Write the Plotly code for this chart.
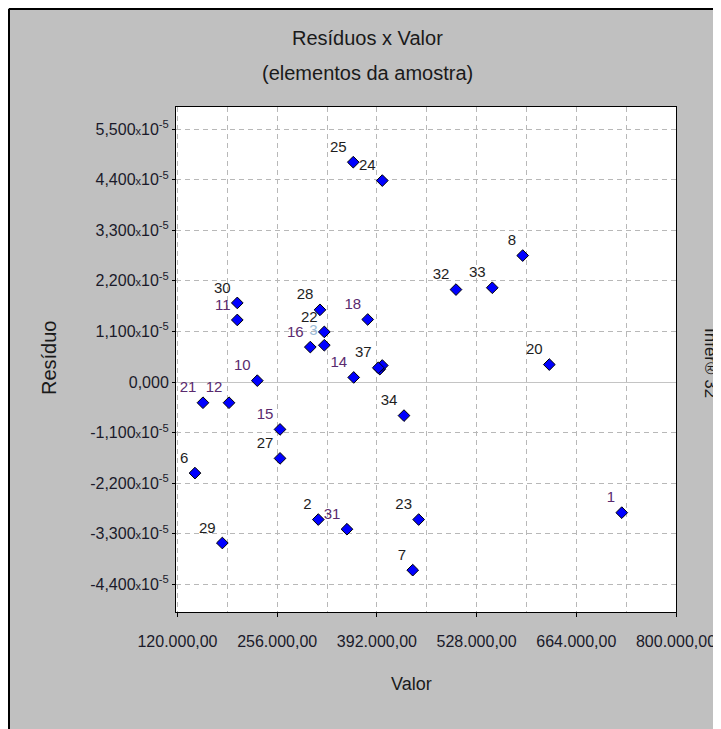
import plotly.graph_objects as go

# dados (valor em R$, residuo em unidades de 1e-5)
elementos = ["1", "2", "3", "6", "7", "8", "10", "11", "12", "14", "15", "16", "18", "20", "21",
             "22", "23", "24", "25", "27", "28", "29", "30", "31", "32", "33", "34", "35", "36", "37"]
valor = [726000, 312100, 320300, 143900, 440900, 590900, 228900, 201600, 190300, 360400,
         259900, 301200, 379500, 627200, 154800, 320300, 449000, 399400, 359800, 259900,
         314400, 181200, 201600, 351200, 499900, 549400, 429000, 396000, 399400, 393900]
residuo_e5 = [-2.84, -2.99, 0.80, -1.98, -4.09, 2.75, 0.03, 1.35, -0.45, 0.10,
              -1.03, 0.76, 1.36, 0.38, -0.45, 1.09, -2.99, 4.38, 4.78, -1.66,
              1.57, -3.50, 1.72, -3.20, 2.01, 2.05, -0.73, 0.28, 0.36, 0.31]
rotulos_ocultos = ["35", "36"]
rotulos_roxos = ["1", "10", "11", "12", "14", "15", "16", "18", "21", "31"]

x_ticks = [120000, 256000, 392000, 528000, 664000, 800000]
x_ticklabels = ["120.000,00", "256.000,00", "392.000,00", "528.000,00", "664.000,00", "800.000,00"]
x_grade_menor = [188000, 324000, 460000, 596000, 732000]
y_ticks_e5 = [-4.4, -3.3, -2.2, -1.1, 0.0, 1.1, 2.2, 3.3, 4.4, 5.5]

residuo = [v * 1e-5 for v in residuo_e5]


def fmt_y(v):
    if v == 0:
        return "0,000"
    s = ("%.3f" % v).replace(".", ",")
    return s + "<span style='font-size:11px'>x</span>10<sup>-5</sup>"


textos = ["" if e in rotulos_ocultos else e for e in elementos]
cores = []
for e in elementos:
    if e in rotulos_roxos:
        cores.append("#5a2a6e")
    elif e == "3":
        cores.append("#9bbbd8")
    else:
        cores.append("#1e1e1e")

# a pagina tem margem de 8px; posicoes abaixo em pixels da pagina
OFF = 8
W, H = 721, 729
L, R, T, B = 176 - OFF, 676 - OFF, 107 - OFF, 612 - OFF


def px(x):
    return (x - OFF - L) / (R - L)


def py(y):
    return (B - (y - OFF)) / (B - T)


FONTE = "Liberation Sans, Arial"

fig = go.Figure()
fig.add_trace(go.Scatter(
    x=valor, y=residuo, mode="markers+text",
    text=textos, textposition="top left",
    textfont=dict(family=FONTE, size=15, color=cores),
    marker=dict(symbol="diamond", size=9, color="#0000ff", line=dict(color="#000000", width=1)),
    cliponaxis=False, showlegend=False, hoverinfo="skip"))

fig.update_xaxes(
    range=[118000, 800000], tickvals=x_ticks, ticktext=x_ticklabels,
    showgrid=True, gridcolor="#b8b8b8", griddash="5px,4px", gridwidth=1,
    minor=dict(tickvals=x_grade_menor, showgrid=True,
               gridcolor="#b8b8b8", griddash="5px,4px", ticks=""),
    showline=True, linecolor="#000000", linewidth=1, mirror=True,
    ticks="outside", ticklen=4, tickcolor="#000000", ticklabelstandoff=11,
    tickfont=dict(family=FONTE, size=16, color="#1a1a2a"),
    zeroline=False)
fig.update_yaxes(
    range=[-5.0e-5, 5.98e-5], tickvals=[v * 1e-5 for v in y_ticks_e5],
    ticktext=[fmt_y(v) for v in y_ticks_e5],
    showgrid=True, gridcolor="#b8b8b8", griddash="5px,4px", gridwidth=1,
    zeroline=True, zerolinecolor="#c4c4c4", zerolinewidth=1,
    showline=True, linecolor="#000000", linewidth=1, mirror=True,
    ticks="outside", ticklen=3, tickcolor="#000000",
    tickfont=dict(family=FONTE, size=16, color="#1a1a2a"))

# textos fixos: (texto, x, y, angulo, tamanho)
textos_fixos = [
    ("Resíduos x Valor", 367, 38, 0, 20),
    ("(elementos da amostra)", 367, 73, 0, 20),
    ("Valor", 411, 684, 0, 18),
    ("Resíduo", 49, 358, -90, 20),
    ("Infer® 32", 711, 363, 90, 17),
]
for txt, x, y, ang, tam in textos_fixos:
    fig.add_annotation(x=px(x), y=py(y), xref="paper", yref="paper", text=txt,
                       xanchor="center", yanchor="middle", showarrow=False,
                       textangle=ang, font=dict(family=FONTE, color="#1a1a1a", size=tam))

# moldura externa
fig.add_shape(type="line", xref="paper", yref="paper", x0=px(9), x1=px(9), y0=py(760), y1=py(9),
              line=dict(color="#000000", width=2))
fig.add_shape(type="line", xref="paper", yref="paper", x0=px(9), x1=px(760), y0=py(9), y1=py(9),
              line=dict(color="#000000", width=2))

fig.update_layout(
    width=W, height=H,
    margin=dict(l=L, r=W - R, t=T, b=H - B),
    paper_bgcolor="#c0c0c0", plot_bgcolor="#ffffff",
    font=dict(family=FONTE))

fig.write_html("out.html")
